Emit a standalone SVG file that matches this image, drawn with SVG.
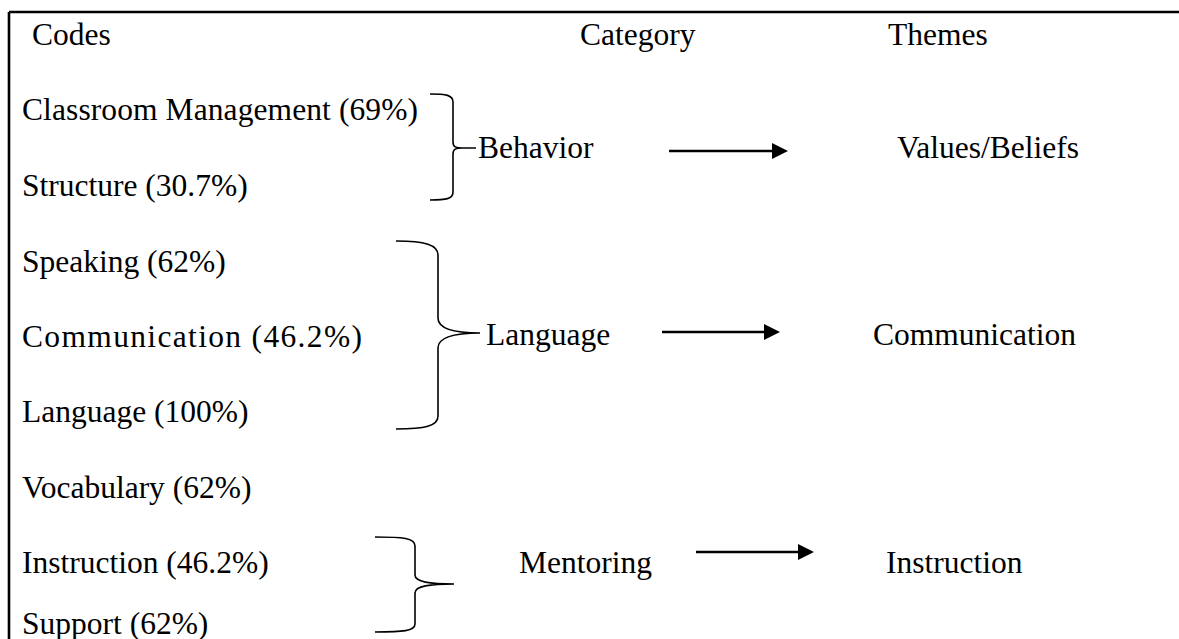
<svg xmlns="http://www.w3.org/2000/svg" width="1179" height="639" viewBox="0 0 1179 639">
  <style>
    text { font-family: "Liberation Serif", "Times New Roman", serif; font-size: 31.5px; fill: #000; }
    .frame { stroke: #000; stroke-width: 2.6; fill: none; }
    .brace { stroke: #000; stroke-width: 1.6; fill: none; }
    .arrow { stroke: #000; stroke-width: 2.6; fill: none; marker-end: url(#head); }
  </style>
  <defs>
    <marker id="head" viewBox="0 0 16 16" refX="0" refY="8" markerWidth="16" markerHeight="16" markerUnits="userSpaceOnUse" orient="auto">
      <path d="M0,0 L16,8 L0,16 Z" fill="#000"/>
    </marker>
  </defs>

  <rect width="1179" height="639" fill="#fff"/>

  <!-- frame: top and left edges -->
  <g id="frame">
    <path class="frame" d="M9,12 H1179 M9,12 V639"/>
  </g>

  <!-- column headings -->
  <g id="headings">
    <text x="32" y="45">Codes</text>
    <text x="580" y="45">Category</text>
    <text x="888" y="45">Themes</text>
  </g>

  <!-- codes -->
  <g id="code-classroom"><text x="22" y="120" textLength="396">Classroom Management (69%)</text></g>
  <g id="code-structure"><text x="22" y="196">Structure (30.7%)</text></g>
  <g id="code-speaking"><text x="22" y="272">Speaking (62%)</text></g>
  <g id="code-communication"><text x="22" y="347" textLength="340">Communication (46.2%)</text></g>
  <g id="code-language"><text x="22" y="422">Language (100%)</text></g>
  <g id="code-vocabulary"><text x="22" y="498">Vocabulary (62%)</text></g>
  <g id="code-instruction"><text x="22" y="573">Instruction (46.2%)</text></g>
  <g id="code-support"><text x="22" y="634">Support (62%)</text></g>

  <!-- categories -->
  <g id="cat-behavior"><text x="478" y="158">Behavior</text></g>
  <g id="cat-language"><text x="486" y="345">Language</text></g>
  <g id="cat-mentoring"><text x="519" y="573">Mentoring</text></g>

  <!-- themes -->
  <g id="theme-values"><text x="897" y="158">Values/Beliefs</text></g>
  <g id="theme-communication"><text x="873" y="345">Communication</text></g>
  <g id="theme-instruction"><text x="886" y="573">Instruction</text></g>

  <!-- braces and arrows -->
  <g id="connectors">
    <path class="brace" d="M430,94 C446,94 453,95 453,102 V142 C453,147 456,148 462,148 H476 M462,148 C456,148 453,149 453,154 V192 C453,199 446,200 430,200"/>
    <path class="brace" d="M396,241 C425,241 438,245 438,255 V318 C438,329 455,333 480,333 C455,333 438,337 438,348 V416 C438,426 425,429 396,429"/>
    <path class="brace" d="M375,537 C403,537 415,538 415,546 V575 C415,582 430,584 454,584 C430,584 415,586 415,593 V624 C415,631 403,632 375,632"/>
    <path class="arrow" d="M669,151 H772"/>
    <path class="arrow" d="M662,332 H764"/>
    <path class="arrow" d="M696,552 H798"/>
  </g>
</svg>
